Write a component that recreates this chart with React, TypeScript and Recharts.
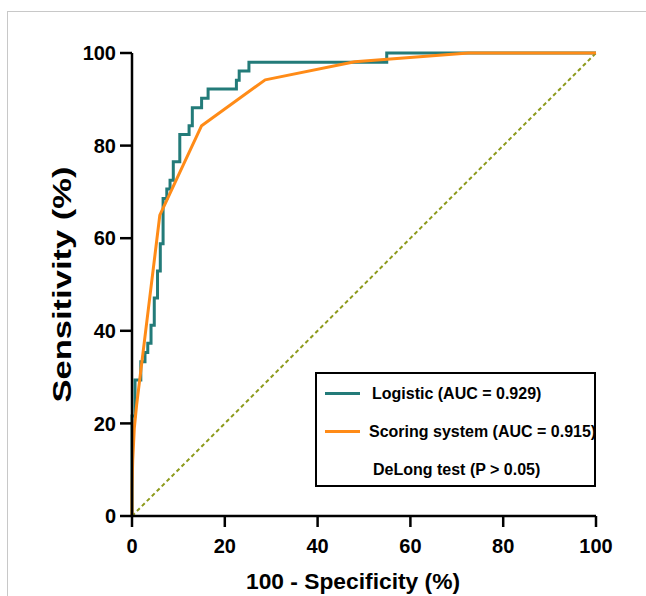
import React from 'react';
import { LineChart, Line, XAxis, YAxis, Label } from 'recharts';

// ROC points (x = 100 - specificity, y = sensitivity)
const logisticFpr = [0, 0, 0.65, 1.9, 2.8, 3.4, 4.1, 4.8, 5.5, 6.1, 6.7, 7.5, 8.2, 8.9, 10.3, 12.3, 13.0, 15.0, 16.4, 22.5, 23.1, 25.2, 54.9, 100];
const logisticTpr = [0, 21.6, 29.4, 33.3, 35.3, 37.3, 41.2, 47.1, 52.9, 58.8, 68.6, 70.6, 72.5, 76.5, 82.4, 84.3, 88.2, 90.2, 92.2, 94.1, 96.1, 98.0, 100, 100];

const scoringFpr = [0, 0, 0.15, 0.5, 1.0, 6.0, 15.0, 28.7, 48.0, 72.5, 100];
const scoringTpr = [0, 6, 12, 19, 24, 65, 84.3, 94.2, 98.1, 100, 100];

const chanceFpr = [0, 100];
const chanceTpr = [0, 100];

const xTicks = [0, 20, 40, 60, 80, 100];
const yTicks = [0, 20, 40, 60, 80, 100];

const legendItems = [
  { label: 'Logistic (AUC = 0.929)', color: '#237b79' },
  { label: 'Scoring system (AUC = 0.915)', color: '#ff8b17' },
];
const legendNote = 'DeLong test (P > 0.05)';

const FONT = "'Liberation Sans', Arial, Helvetica, sans-serif";

const toPoints = (xs: number[], ys: number[]) => xs.map((x, i) => ({ x, y: ys[i] }));

const logisticData = toPoints(logisticFpr, logisticTpr);
const scoringData = toPoints(scoringFpr, scoringTpr);
const chanceData = toPoints(chanceFpr, chanceTpr);

const tickStyle = { fill: '#000', fontSize: 20, fontWeight: 'bold', fontFamily: FONT };

export default function App() {
  return (
    <div style={{ position: 'absolute', left: 0, top: 0, width: 646, height: 596, background: '#fff', fontFamily: FONT }}>
      {/* faint frame of the original figure */}
      <div
        style={{
          position: 'absolute',
          left: 7,
          top: 11,
          right: 0,
          bottom: 0,
          borderLeft: '1px solid #c8c8c8',
          borderTop: '1px solid #c8c8c8',
        }}
      />
      <LineChart width={646} height={596} margin={{ top: 53, right: 50, left: 12, bottom: 0 }}>
        <XAxis
          type="number"
          dataKey="x"
          domain={[0, 100]}
          ticks={xTicks}
          height={80}
          tickSize={11}
          tickMargin={12}
          axisLine={{ stroke: '#000', strokeWidth: 2.5 }}
          tickLine={{ stroke: '#000', strokeWidth: 2.5 }}
          tick={tickStyle}
        >
          <Label
            content={(props: any) => {
              const vb = props.viewBox || { x: 132, width: 464 };
              return (
                <text
                  x={vb.x + vb.width / 2 - 11}
                  y={589}
                  textAnchor="middle"
                  fontFamily={FONT}
                  fontWeight="bold"
                  fontSize={22}
                  textLength={214}
                  lengthAdjust="spacingAndGlyphs"
                  fill="#000"
                >
                  100 - Specificity (%)
                </text>
              );
            }}
          />
        </XAxis>
        <YAxis
          type="number"
          dataKey="y"
          domain={[0, 100]}
          ticks={yTicks}
          width={120}
          tickSize={12}
          tickMargin={4}
          axisLine={{ stroke: '#000', strokeWidth: 2.5 }}
          tickLine={{ stroke: '#000', strokeWidth: 2.5 }}
          tick={tickStyle}
        >
          <Label
            content={(props: any) => {
              const vb = props.viewBox || { y: 53, height: 463 };
              const cx = 71;
              const cy = vb.y + vb.height / 2;
              return (
                <text
                  x={cx}
                  y={cy}
                  transform={`rotate(-90 ${cx} ${cy})`}
                  textAnchor="middle"
                  fontFamily={FONT}
                  fontWeight="bold"
                  fontSize={26}
                  textLength={236}
                  lengthAdjust="spacingAndGlyphs"
                  fill="#000"
                >
                  Sensitivity (%)
                </text>
              );
            }}
          />
        </YAxis>
        <Line
          data={chanceData}
          dataKey="y"
          type="linear"
          stroke="#8d9a1c"
          strokeWidth={2}
          strokeDasharray="4 3"
          dot={false}
          activeDot={false}
          isAnimationActive={false}
        />
        <Line
          data={logisticData}
          dataKey="y"
          type="stepAfter"
          stroke={legendItems[0].color}
          strokeWidth={3}
          dot={false}
          activeDot={false}
          isAnimationActive={false}
        />
        <Line
          data={scoringData}
          dataKey="y"
          type="linear"
          stroke={legendItems[1].color}
          strokeWidth={3}
          strokeLinejoin="round"
          dot={false}
          activeDot={false}
          isAnimationActive={false}
        />
      </LineChart>
      {/* boxed legend, lower right of the plot */}
      <div
        style={{
          position: 'absolute',
          left: 315,
          top: 372,
          width: 281,
          height: 115,
          border: '2px solid #000',
          boxSizing: 'border-box',
          fontWeight: 'bold',
          fontSize: 16,
          color: '#000',
        }}
      >
        {legendItems.map((item, i) => (
          <div key={item.label} style={{ position: 'absolute', left: 0, top: 8 + i * 38, height: 24, width: '100%' }}>
            <div style={{ position: 'absolute', left: 8, top: 10, width: 35, height: 3, background: item.color }} />
            <div style={{ position: 'absolute', left: i === 0 ? 55 : 52, top: 2, lineHeight: '20px', whiteSpace: 'nowrap' }}>
              {item.label}
            </div>
          </div>
        ))}
        <div style={{ position: 'absolute', left: 56, top: 86, lineHeight: '20px', whiteSpace: 'nowrap' }}>{legendNote}</div>
      </div>
    </div>
  );
}
